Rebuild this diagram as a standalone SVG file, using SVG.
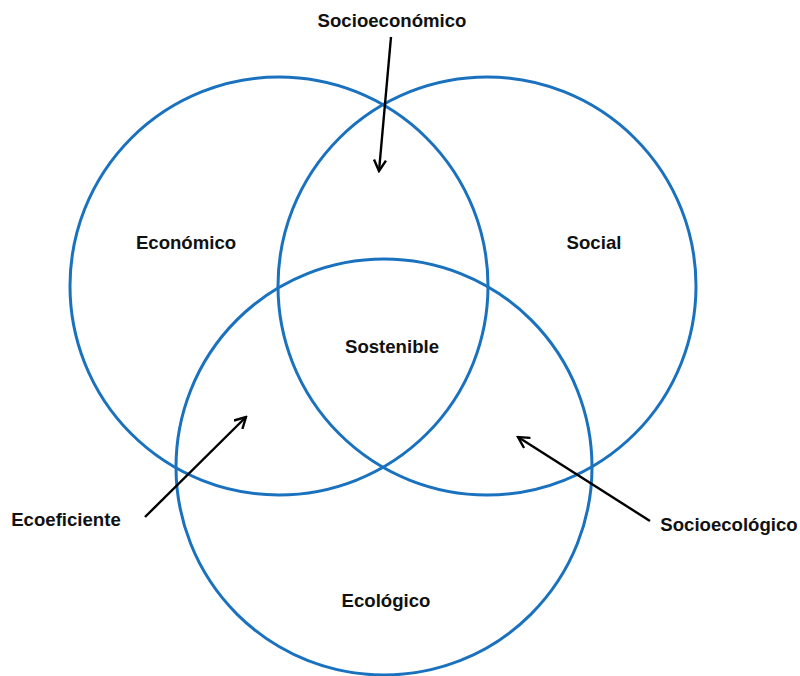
<svg xmlns="http://www.w3.org/2000/svg" width="800" height="676" viewBox="0 0 800 676">
<style>
.c{fill:none;stroke:#1a72bf;stroke-width:3}
.t{font-family:"Liberation Sans",Arial,sans-serif;font-weight:bold;font-size:18.6px;fill:#111;text-anchor:middle}
.a{stroke:#000;stroke-width:2.4;fill:none}
</style>
<defs>
<marker id="ah" viewBox="0 0 14 14" refX="12" refY="7" markerWidth="14" markerHeight="14" markerUnits="userSpaceOnUse" orient="auto">
<path d="M1,1 L12,7 L1,13" fill="none" stroke="#000" stroke-width="2.4"/>
</marker>
</defs>
<rect width="800" height="676" fill="#fff"/>
<g id="economico"><circle class="c" cx="279" cy="286" r="209"/><text class="t" x="186" y="249">Económico</text></g>
<g id="social"><circle class="c" cx="487" cy="286" r="209"/><text class="t" x="594" y="249">Social</text></g>
<g id="ecologico"><circle class="c" cx="384" cy="467" r="208"/><text class="t" x="386" y="607">Ecológico</text></g>
<g id="sostenible"><text class="t" x="392" y="353">Sostenible</text></g>
<g id="socioeconomico"><text class="t" x="392" y="27">Socioeconómico</text></g>
<g id="ecoeficiente"><text class="t" x="66" y="526">Ecoeficiente</text></g>
<g id="socioecologico"><text class="t" x="729" y="531">Socioecológico</text></g>
<g id="connectors">
<line class="a" x1="391" y1="37" x2="379" y2="171" marker-end="url(#ah)"/>
<line class="a" x1="145" y1="517" x2="246" y2="417" marker-end="url(#ah)"/>
<line class="a" x1="650" y1="521" x2="518" y2="437" marker-end="url(#ah)"/>
</g>
</svg>
